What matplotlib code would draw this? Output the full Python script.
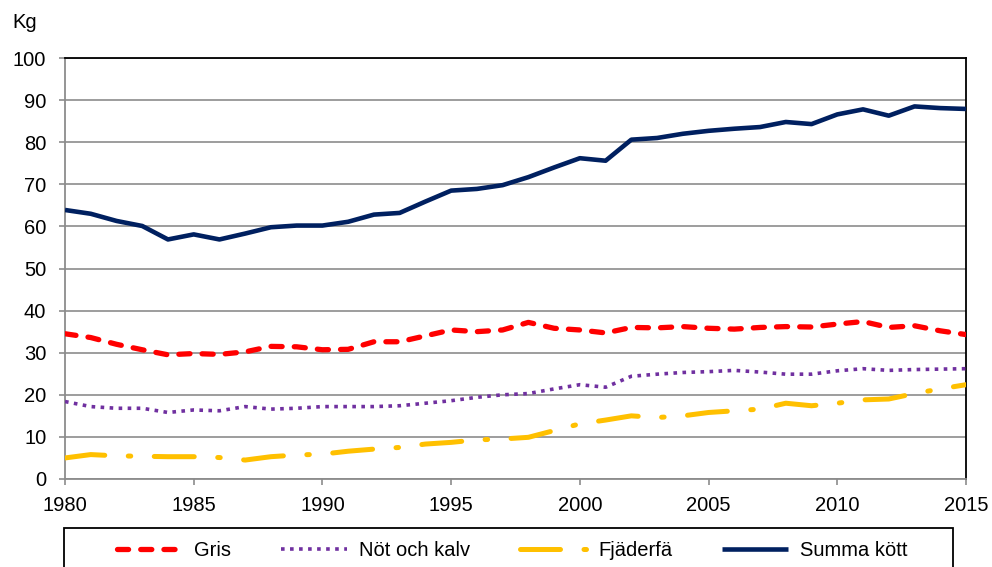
import matplotlib
matplotlib.use("Agg")
import matplotlib.pyplot as plt
from matplotlib.lines import Line2D
from matplotlib.patches import Rectangle

plt.rcParams['font.family'] = ['Liberation Sans', 'DejaVu Sans']

years = list(range(1980, 2016))
gris = [34.5, 33.6, 32.0, 30.7, 29.5, 29.8, 29.6, 30.2, 31.5, 31.4, 30.7, 30.8,
        32.6, 32.6, 34.0, 35.4, 35.0, 35.4, 37.2, 35.8, 35.4, 34.7, 36.0, 35.9,
        36.2, 35.8, 35.6, 36.0, 36.2, 36.1, 36.8, 37.4, 36.0, 36.4, 35.2, 34.3]
not_kalv = [18.4, 17.2, 16.8, 16.8, 15.8, 16.4, 16.2, 17.2, 16.6, 16.8, 17.2, 17.2,
            17.2, 17.4, 18.0, 18.6, 19.4, 20.0, 20.3, 21.4, 22.4, 21.8, 24.4, 24.9,
            25.3, 25.5, 25.8, 25.4, 24.9, 24.9, 25.7, 26.2, 25.8, 26.0, 26.1, 26.2]
fjaderfa = [5.0, 5.8, 5.5, 5.4, 5.3, 5.3, 5.1, 4.5, 5.3, 5.7, 5.9, 6.6,
            7.1, 7.5, 8.3, 8.7, 9.3, 9.5, 9.9, 11.5, 13.1, 14.0, 15.0, 14.6,
            15.0, 15.8, 16.2, 16.6, 18.0, 17.4, 18.0, 18.8, 19.0, 20.3, 21.4, 22.4]
summa = [63.9, 63.0, 61.3, 60.1, 56.9, 58.1, 56.9, 58.3, 59.8, 60.2, 60.2, 61.1,
         62.8, 63.2, 65.9, 68.5, 68.9, 69.8, 71.7, 74.0, 76.2, 75.6, 80.6, 81.0,
         82.0, 82.7, 83.2, 83.6, 84.8, 84.3, 86.6, 87.8, 86.3, 88.5, 88.1, 87.9]
labels = ['Gris', 'Nöt och kalv', 'Fjäderfä', 'Summa kött']
xticks = list(range(1980, 2016, 5))
yticks = list(range(0, 101, 10))

RED, PURPLE, GOLD, NAVY = '#FF0000', '#7030A0', '#FFC000', '#002060'
GRID = '#8c8c8c'

styles = [
    dict(color=RED, lw=3.8, linestyle=(0, (2.1, 2.3)), dash_capstyle='round'),
    dict(color=PURPLE, lw=2.6, linestyle=(0, (1, 1.5)), dash_capstyle='butt'),
    dict(color=GOLD, lw=3.6, linestyle=(0, (8.0, 4.7, 0.5, 4.7)), dash_capstyle='round'),
    dict(color=NAVY, lw=3.3, linestyle='-', solid_capstyle='butt'),
]

fig = plt.figure(figsize=(9.92, 5.67), dpi=100)
ax = fig.add_axes([65/992, 1-479/567, (966-65)/992, (479-58)/567])

series = [gris, not_kalv, fjaderfa, summa]
for s, st in zip(series, styles):
    ax.plot(years, s, solid_joinstyle='round', dash_joinstyle='round', zorder=3, **st)

ax.set_xlim(1980, 2015)
ax.set_ylim(0, 100)
ax.set_xticks(xticks)
ax.set_yticks(yticks)
ax.yaxis.grid(True, color=GRID, lw=1.2, zorder=0)
ax.set_axisbelow(True)

for side in ['left', 'bottom']:
    ax.spines[side].set_color(GRID)
    ax.spines[side].set_linewidth(1.3)
for side in ['top', 'right']:
    ax.spines[side].set_color('black')
    ax.spines[side].set_linewidth(1.3)

ax.tick_params(axis='both', which='major', direction='out', length=4.5, width=1.2,
               color=GRID, labelsize=14.5, labelcolor='black')
ax.tick_params(axis='y', pad=9)
ax.tick_params(axis='x', pad=8)

fig.text(12/992, 1-28/567, 'Kg', fontsize=14.5, ha='left', va='baseline')

handles = [Line2D([], [], **st) for st in styles]
leg = fig.legend(handles, labels, loc='center', bbox_to_anchor=(512/992, 1-551/567),
                 ncol=4, frameon=False, fontsize=14.5, handlelength=3.25,
                 handletextpad=0.6, columnspacing=2.5)

fig.add_artist(Rectangle((64/992, -0.01), 889/992, (570-531)/567 + 0.01,
                         transform=fig.transFigure, fill=False, ec='black', lw=1.3))

fig.savefig('out.png', dpi=100)
